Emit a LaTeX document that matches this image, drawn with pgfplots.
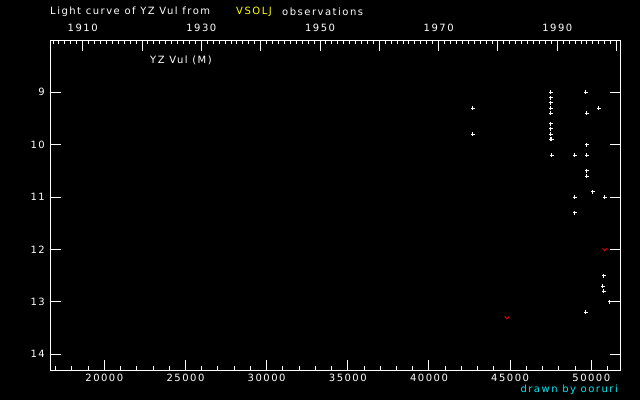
\documentclass[border=0pt]{standalone}
\usepackage{fontspec}
\setmainfont{DejaVu Sans}[LetterSpace=15]
\usepackage{pgfplots}
\pgfplotsset{compat=1.18}

\definecolor{credit}{RGB}{0,230,240}
\definecolor{srcyellow}{RGB}{255,255,0}
\definecolor{limred}{RGB}{255,0,0}

% small "v" mark for the red (fainter than) points
\pgfdeclareplotmark{vmark}{%
  \pgfpathmoveto{\pgfqpoint{-2.3pt}{1.2pt}}%
  \pgfpathlineto{\pgfqpoint{0pt}{-1.2pt}}%
  \pgfpathlineto{\pgfqpoint{2.3pt}{1.2pt}}%
  \pgfusepathqstroke}

\pgfplotsset{
  lcframe/.style={
    at={(335.4pt,194.65pt)}, anchor=center, scale only axis,
    width=569.8pt, height=329.3pt,
    ymin=8.015, ymax=14.30, y dir=reverse,
    axis line style={white, line width=1pt},
    tick style={white, line width=1pt},
    tick align=inside,
    major tick length=10pt, minor tick length=4.5pt,
    ticklabel style={white, inner sep=0pt},
    /pgf/number format/assume math mode=true,
    clip=false,
  }
}

\begin{document}
\begin{tikzpicture}[font=\fontsize{10}{12}\selectfont]
\fill[black] (0pt,0pt) rectangle (640pt,400pt);

% top (year) axis
\begin{axis}[lcframe,
  xmin=1904.57, xmax=2000.62,
  hide y axis,
  xtick pos=upper, xticklabel pos=upper,
  xtick={1910,1920,...,2000},
  xticklabels={1910,,1930,,1950,,1970,,1990,},
  minor xtick={1905,1906,...,2000},
  minor tick length=3.5pt,
  xticklabel style={anchor=south, yshift=9pt},
]
\end{axis}

% main axis
\begin{axis}[lcframe,
  xmin=16686, xmax=51786,
  xtick pos=lower, xticklabel pos=lower,
  xtick={20000,25000,...,50000},
  minor xtick={17000,18000,...,51000},
  scaled x ticks=false,
  xticklabel style={anchor=north, yshift=-4pt, /pgf/number format/1000 sep={}},
  ytick={9,10,...,14},
  ytick pos=both, yticklabel pos=left,
  yticklabel style={anchor=east, xshift=-5.5pt},
]
\addplot[only marks, mark=+, mark size=2pt, white, line width=1pt] coordinates {
  (42709,9.3) (42709,9.8)
  (47512,9.0) (47512,9.1) (47512,9.2) (47512,9.3) (47512,9.4)
  (47512,9.6) (47512,9.7) (47512,9.8) (47512,9.9) (47560,9.9) (47574,10.2)
  (49667,9.0) (50468,9.3) (49729,9.4) (49729,10.0) (48990,10.2)
  (49729,10.2) (49729,10.5) (49729,10.6) (50098,10.9) (48990,11.0)
  (50837,11.0) (48990,11.3) (50776,12.5) (50714,12.7) (50776,12.8)
  (51145,13.0) (49667,13.2)
};
\addplot[only marks, mark=vmark, limred, line width=0.9pt] coordinates {
  (50837,12.0) (44803,13.3)
};
\end{axis}

\node[anchor=west, white, inner sep=0pt] at (50pt,388pt) {Light curve of YZ Vul from};
\node[anchor=west, srcyellow, inner sep=0pt] at (236pt,388pt) {VSOLJ};
\node[anchor=west, white, inner sep=0pt] at (282pt,388pt) {observations};
\node[anchor=west, white, inner sep=0pt] at (150pt,340pt) {YZ Vul (M)};
\node[anchor=east, credit, inner sep=0pt] at (618pt,10pt) {drawn by ooruri};

\pgfresetboundingbox
\useasboundingbox (0pt,0pt) rectangle (640pt,400pt);
\end{tikzpicture}
\end{document}
